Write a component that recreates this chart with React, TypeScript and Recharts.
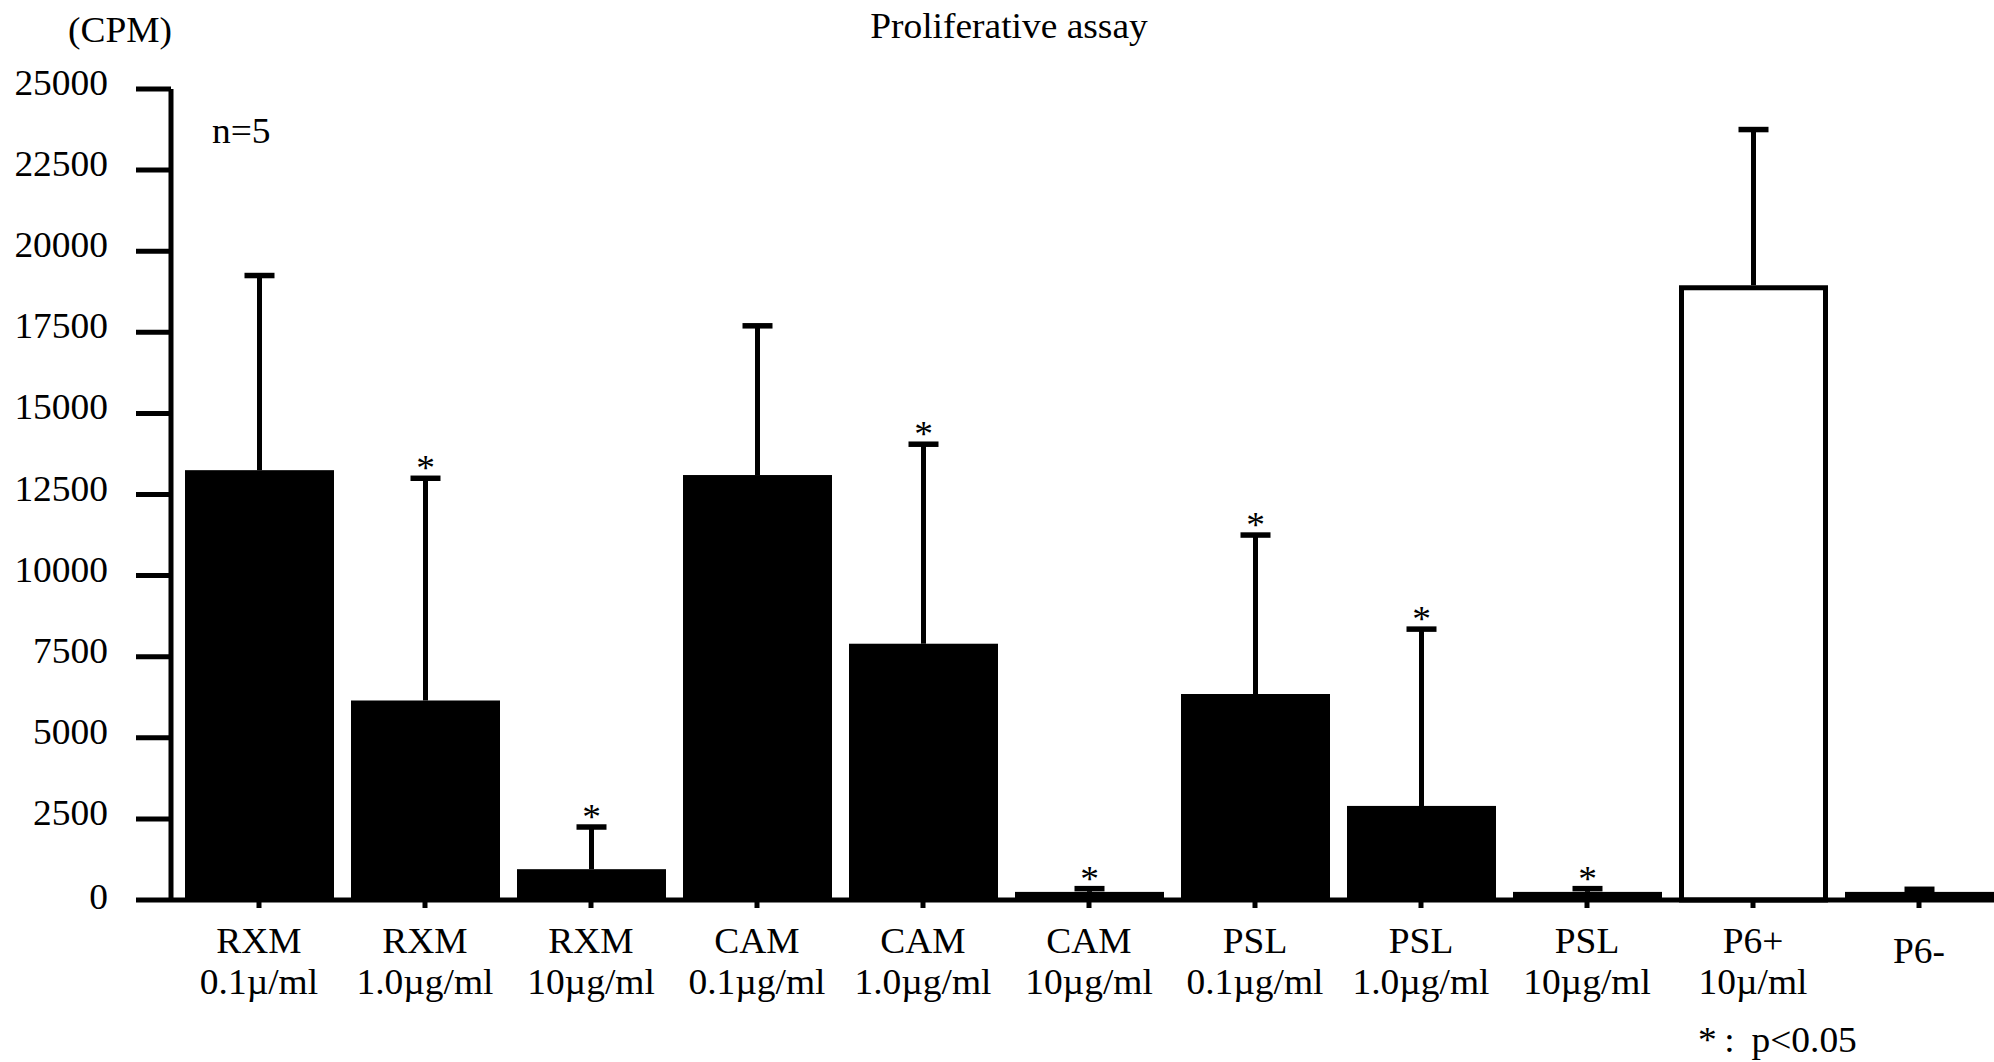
import React from 'react';
import { BarChart, Bar, XAxis, YAxis } from 'recharts';

// Treatment groups and concentrations along the x axis
const groups = ['RXM', 'RXM', 'RXM', 'CAM', 'CAM', 'CAM', 'PSL', 'PSL', 'PSL', 'P6+', 'P6-'];
const doses = [
  '0.1\u00b5/ml',
  '1.0\u00b5g/ml',
  '10\u00b5g/ml',
  '0.1\u00b5g/ml',
  '1.0\u00b5g/ml',
  '10\u00b5g/ml',
  '0.1\u00b5g/ml',
  '1.0\u00b5g/ml',
  '10\u00b5g/ml',
  '10\u00b5/ml',
  '',
];

// Mean counts per minute and their standard deviations (upward error only)
const meanCpm = [13250, 6150, 950, 13100, 7900, 250, 6350, 2900, 250, 18950, 250];
const sdCpm = [6000, 6850, 1300, 4600, 6150, 100, 4900, 5450, 100, 4800, 80];

// p < 0.05 markers and the open (positive control) bar
const significant = [false, true, true, false, true, true, true, true, true, false, false];
const openBar = [false, false, false, false, false, false, false, false, false, true, false];

const yTicks = [0, 2500, 5000, 7500, 10000, 12500, 15000, 17500, 20000, 22500, 25000];

const data = groups.map((g, i) => ({
  label: doses[i] ? `${g}\n${doses[i]}` : g,
  mean: meanCpm[i],
  sd: sdCpm[i],
  sig: significant[i],
  open: openBar[i],
}));

const FONT = '"Liberation Serif", "Times New Roman", serif';
const FS = 35;
const STRETCH = 1.07;

// Serif text, slightly widened
const SText = ({ x, y, anchor = 'start', children }: any) => (
  <g transform={`translate(${x},${y}) scale(${STRETCH},1)`}>
    <text x={0} y={0} textAnchor={anchor} fontFamily={FONT} fontSize={FS} fill="#000">
      {children}
    </text>
  </g>
);

// Bar with its upward SD whisker and significance mark, scaled from the bar's own height
const BarShape = (props: any) => {
  const { x, y, width, height, payload } = props;
  const cx = x + width / 2;
  const pxPerUnit = payload && payload.mean > 0 ? height / payload.mean : 0;
  const capY = y - (payload?.sd ?? 0) * pxPerUnit;
  const s = 5;
  return (
    <g>
      {payload?.open ? (
        <rect x={x + s / 2} y={y + s / 2} width={width - s} height={height - s / 2}
          fill="#fff" stroke="#000" strokeWidth={s} />
      ) : (
        <rect x={x} y={y} width={width} height={height} fill="#000" />
      )}
      <line x1={cx} x2={cx} y1={y} y2={capY} stroke="#000" strokeWidth={5} />
      <line x1={cx - 15} x2={cx + 15} y1={capY} y2={capY} stroke="#000" strokeWidth={5.5} />
      {payload?.sig ? <SText x={cx} y={capY + 2} anchor="middle">*</SText> : null}
    </g>
  );
};

const XTick = (props: any) => {
  const { x, y, payload } = props;
  const lines = String(payload.value).split('\n');
  if (lines.length === 1) {
    return <SText x={x} y={y + 55} anchor="middle">{lines[0]}</SText>;
  }
  return (
    <g>
      <SText x={x} y={y + 45} anchor="middle">{lines[0]}</SText>
      <SText x={x} y={y + 86} anchor="middle">{lines[1]}</SText>
    </g>
  );
};

const YTick = (props: any) => {
  const { x, y, payload } = props;
  return (
    <SText x={x} y={y + (payload.value === 0 ? 9 : 6)} anchor="end">
      {payload.value}
    </SText>
  );
};

export default function App() {
  return (
    <div style={{ position: 'fixed', left: 0, top: 0, width: 1994, height: 1062, overflow: 'hidden', background: '#fff' }}>
      <BarChart
        width={2002}
        height={1062}
        data={data}
        margin={{ top: 89, right: 0, bottom: 0, left: 0 }}
        barSize={149}
      >
        <XAxis
          dataKey="label"
          interval={0}
          height={162}
          padding={{ left: 5, right: 0 }}
          tickSize={8}
          tickMargin={0}
          axisLine={{ stroke: '#000', strokeWidth: 5 }}
          tickLine={{ stroke: '#000', strokeWidth: 5 }}
          tick={<XTick />}
        />
        <YAxis
          type="number"
          domain={[0, 25000]}
          ticks={yTicks}
          interval={0}
          width={171}
          tickSize={35}
          tickMargin={28}
          axisLine={{ stroke: '#000', strokeWidth: 5 }}
          tickLine={{ stroke: '#000', strokeWidth: 5 }}
          tick={<YTick />}
        />
        <Bar dataKey="mean" isAnimationActive={false} shape={<BarShape />} />
      </BarChart>
      <svg width={1994} height={1062} style={{ position: 'absolute', left: 0, top: 0, pointerEvents: 'none' }}>
        <SText x={1009} y={38} anchor="middle">Proliferative assay</SText>
        <SText x={68} y={42}>(CPM)</SText>
        <SText x={212} y={143}>n=5</SText>
        <SText x={1698} y={1052}>{'*\u2009:\u2009 p<0.05'}</SText>
      </svg>
    </div>
  );
}
